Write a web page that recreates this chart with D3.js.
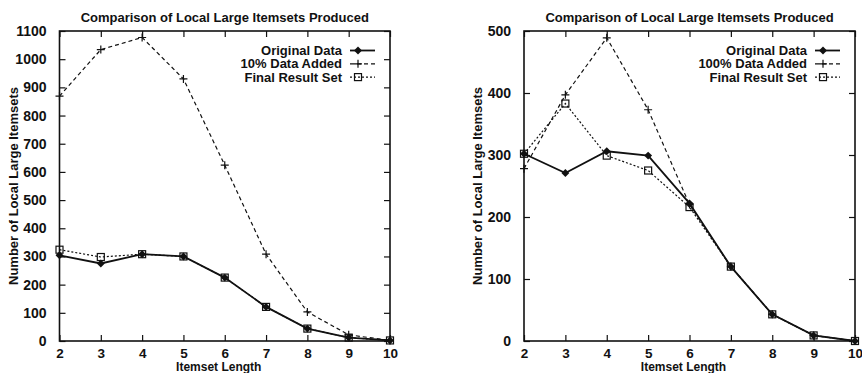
<!DOCTYPE html>
<html>
<head>
<meta charset="utf-8">
<script src="https://cdn.jsdelivr.net/npm/d3@7"></script>
<style>
  body { margin: 0; background: #fff; }
  svg { display: block; }
  text { font-family: "Liberation Sans", Arial, sans-serif; font-weight: bold; fill: #111; }
</style>
</head>
<body>
<svg id="chart" width="862" height="373"></svg>
<script>
// itemset lengths on the x axis
const lengths = [2, 3, 4, 5, 6, 7, 8, 9, 10];

// left panel: 10% data added
const origA  = [304, 275, 308, 300, 225, 121, 44, 12, 2];
const addA   = [869, 1034, 1077, 930, 624, 308, 103, 22, 2];
const finalA = [324, 298, 308, 300, 225, 121, 44, 12, 2];

// right panel: 100% data added
const origB  = [302, 271, 306, 299, 222, 120, 43, 9, 0];
const addB   = [278, 397, 489, 373, 220, 120, 43, 9, 0];
const finalB = [302, 383, 299, 275, 216, 120, 43, 9, 0];

const titleText = "Comparison of Local Large Itemsets Produced";
const yTitle = "Number of Local Large Itemsets";
const xTitle = "Itemset Length";

const panels = [
  { x0: 59.5, x1: 390, yMax: 1100, yStep: 100, labels: ["Original Data", "10% Data Added", "Final Result Set"],
    series: [origA, addA, finalA] },
  { x0: 524, x1: 855, yMax: 500, yStep: 100, labels: ["Original Data", "100% Data Added", "Final Result Set"],
    series: [origB, addB, finalB] }
];

const y0 = 341, y1 = 31;
const svg = d3.select("#chart");

const styles = [
  { dash: null, marker: "diamond" },
  { dash: "4,3", marker: "plus" },
  { dash: "2,2", marker: "square" }
];

function drawMarker(g, type, cx, cy) {
  if (type === "diamond") {
    g.append("path").attr("d", d3.symbol(d3.symbolDiamond2, 40)())
      .attr("transform", `translate(${cx},${cy})`).attr("fill", "#111");
  } else if (type === "plus") {
    g.append("path").attr("d", `M${cx-4},${cy}H${cx+4}M${cx},${cy-4}V${cy+4}`)
      .attr("stroke", "#111").attr("stroke-width", 1.2).attr("fill", "none");
  } else {
    g.append("rect").attr("x", cx - 3.5).attr("y", cy - 3.5).attr("width", 7).attr("height", 7)
      .attr("fill", "none").attr("stroke", "#111").attr("stroke-width", 1.2);
  }
}

panels.forEach(p => {
  const g = svg.append("g");
  const x = d3.scaleLinear().domain([2, 10]).range([p.x0, p.x1]);
  const y = d3.scaleLinear().domain([0, p.yMax]).range([y0, y1]);
  const yTicks = d3.range(0, p.yMax + 1, p.yStep);

  // axes with inward mirrored ticks
  const bottom = g.append("g").attr("transform", `translate(0,${y0})`)
    .call(d3.axisBottom(x).tickValues(lengths).tickSize(-6).tickPadding(7).tickFormat(d3.format("d")));
  const top = g.append("g").attr("transform", `translate(0,${y1})`)
    .call(d3.axisTop(x).tickValues(lengths).tickSize(-6).tickFormat(""));
  const left = g.append("g").attr("transform", `translate(${p.x0},0)`)
    .call(d3.axisLeft(y).tickValues(yTicks).tickSize(-6).tickPadding(13).tickFormat(d3.format("d")));
  const right = g.append("g").attr("transform", `translate(${p.x1},0)`)
    .call(d3.axisRight(y).tickValues(yTicks).tickSize(-6).tickFormat(""));
  [bottom, top, left, right].forEach(a => {
    a.select(".domain").remove();
    a.selectAll("line").attr("stroke", "#111").attr("stroke-width", 1.2);
    a.selectAll("text").style("font-size", "14px").attr("fill", "#111");
  });
  bottom.selectAll("text").style("font-size", "13.5px");

  g.append("rect").attr("x", p.x0).attr("y", y1).attr("width", p.x1 - p.x0).attr("height", y0 - y1)
    .attr("fill", "none").attr("stroke", "#111").attr("stroke-width", 1.6);

  // titles
  const cx = (p.x0 + p.x1) / 2;
  g.append("text").attr("x", cx).attr("y", 22).attr("text-anchor", "middle")
    .style("font-size", "13px").text(titleText);
  g.append("text").attr("x", cx - 6).attr("y", 370.5).attr("text-anchor", "middle")
    .style("font-size", "12px").text(xTitle);
  g.append("text").attr("transform", `translate(${p.x0 - 42},${(y0 + y1) / 2}) rotate(-90)`)
    .attr("text-anchor", "middle").style("font-size", "13px").text(yTitle);

  // series
  const line = d3.line().x((d, i) => x(lengths[i])).y(d => y(d));
  [2, 1, 0].forEach(si => {
    const vals = p.series[si];
    const st = styles[si];
    g.append("path").datum(vals).attr("d", line).attr("fill", "none")
      .attr("stroke", "#111").attr("stroke-width", si === 0 ? 1.8 : 1.2)
      .attr("stroke-dasharray", st.dash);
    vals.forEach((v, i) => drawMarker(g, st.marker, x(lengths[i]), y(v)));
  });

  // legend
  const lx = p.x1 - 48, ly = 55;
  p.labels.forEach((lab, i) => {
    const yy = ly + i * 13.3;
    g.append("text").attr("x", lx).attr("y", yy).attr("text-anchor", "end")
      .style("font-size", "13px").text(lab);
    const st = styles[i];
    g.append("line").attr("x1", lx + 8).attr("x2", lx + 33).attr("y1", yy - 4.5).attr("y2", yy - 4.5)
      .attr("stroke", "#111").attr("stroke-width", i === 0 ? 1.8 : 1.2).attr("stroke-dasharray", st.dash);
    drawMarker(g, st.marker, lx + 16, yy - 4.5);
  });
});
</script>
</body>
</html>
